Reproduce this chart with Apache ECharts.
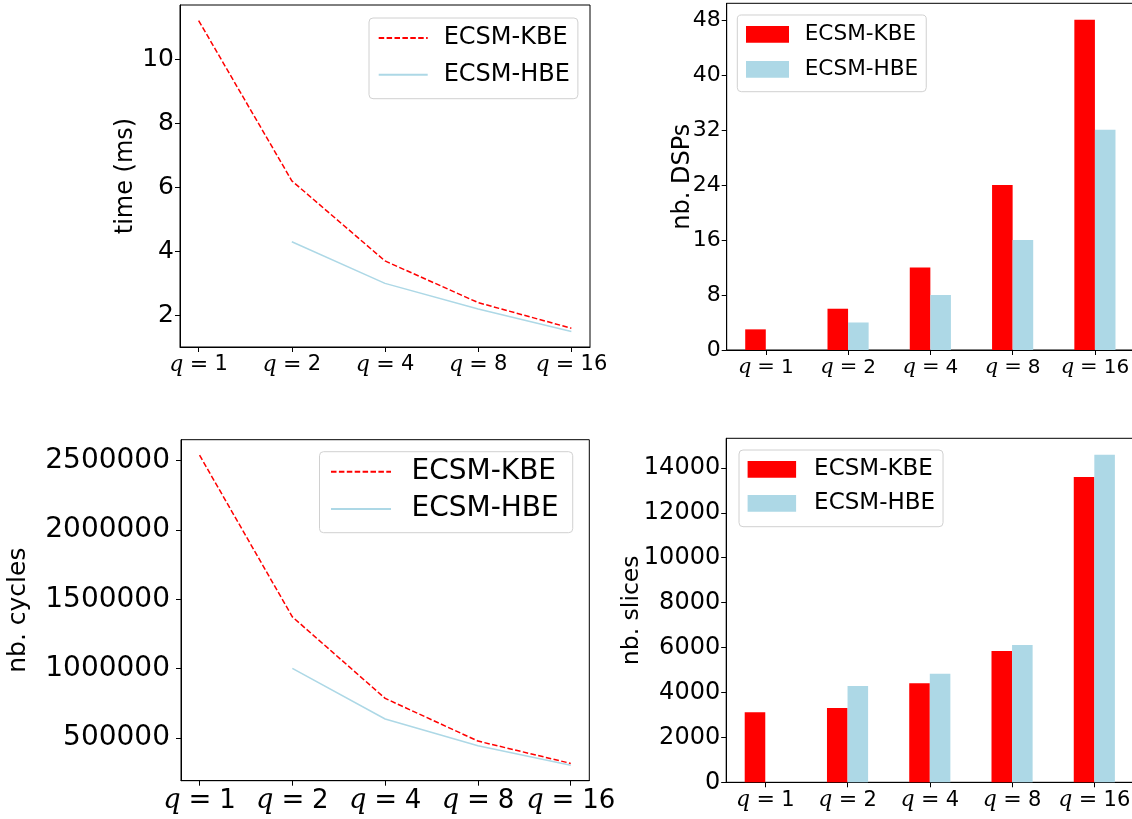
<!DOCTYPE html>
<html><head><meta charset="utf-8">
<script src="https://cdn.jsdelivr.net/npm/echarts@6/dist/echarts.min.js"></script>
<style>
body{margin:0;background:#fff;width:1132px;height:819px;position:relative;overflow:hidden}
.c{position:absolute}
</style></head><body>
<div id="tl" class="c" style="left:0;top:0;width:700px;height:410px"></div>
<div id="bl" class="c" style="left:0;top:410px;width:700px;height:409px"></div>
<div id="tr" class="c" style="left:600px;top:0;width:532px;height:410px"></div>
<div id="br" class="c" style="left:600px;top:410px;width:532px;height:409px"></div>
<script>
// ---- data ----
const qValues = [1, 2, 4, 8, 16];
const seriesNames = ['ECSM-KBE', 'ECSM-HBE'];
const timeKBE = [11.2, 6.2, 3.7, 2.4, 1.6];
const timeHBE = [null, 4.3, 3.0, 2.2, 1.5];
const dspKBE = [3, 6, 12, 24, 48];
const dspHBE = [0, 4, 8, 16, 32];
const cyclesKBE = [2540000, 1374000, 786000, 478000, 317000];
const cyclesHBE = [null, 1003000, 637000, 444000, 304000];
const slicesKBE = [3120, 3310, 4410, 5850, 13600];
const slicesHBE = [0, 4290, 4830, 6110, 14590];
const timeTicks = [2, 4, 6, 8, 10];
const dspTicks = [0, 8, 16, 24, 32, 40, 48];
const cycleTicks = [500000, 1000000, 1500000, 2000000, 2500000];
const sliceTicks = [0, 2000, 4000, 6000, 8000, 10000, 12000, 14000];
const yNames = ['time (ms)', 'nb. DSPs', 'nb. cycles', 'nb. slices'];
const RED = '#ff0000', BLUE = '#add8e6';
const FONT = '"DejaVu Sans", sans-serif';

function pts(arr) { return arr.map((v, i) => [i, v]).filter(p => p[1] !== null); }
function lims(a, b, zero) {
  const all = a.concat(b).filter(v => v !== null);
  const lo = zero ? 0 : Math.min(...all), hi = Math.max(...all);
  const m = 0.05 * (hi - lo);
  return [zero ? 0 : lo - m, hi + m];
}

function xAxisCfg(min, max, numSize) {
  const idx = qValues.map((q, i) => i);
  return {
    type: 'value', min: min, max: max,
    splitLine: { show: false },
    axisLine: { show: true, onZero: false, lineStyle: { color: '#000', width: 1 } },
    axisTick: { show: true, customValues: idx, length: 5, lineStyle: { color: '#000' } },
    axisLabel: {
      customValues: idx, margin: 7, hideOverlap: false,
      formatter: v => '{q|q}{e|=}{n|' + qValues[Math.round(v)] + '}',
      rich: {
        q: { fontFamily: '"DejaVu Serif", serif', fontStyle: 'italic', fontSize: numSize * 1.05, color: '#000' },
        e: { fontFamily: '"DejaVu Serif", serif', fontSize: numSize * 1.05, color: '#000', padding: [0, numSize * 0.3, 0, numSize * 0.3] },
        n: { fontFamily: FONT, fontSize: numSize, color: '#000' }
      }
    }
  };
}
function yAxisCfg(min, max, ticks, tickSize, tickMargin, name, nameSize, nameGap) {
  return {
    type: 'value', min: min, max: max,
    name: name, nameLocation: 'middle', nameGap: nameGap, nameMoveOverlap: false,
    nameTextStyle: { fontFamily: FONT, fontSize: nameSize, color: '#000' },
    splitLine: { show: false },
    axisLine: { show: true, onZero: false, lineStyle: { color: '#000', width: 1 } },
    axisTick: { show: true, customValues: ticks, length: 5, lineStyle: { color: '#000' } },
    axisLabel: { customValues: ticks, margin: tickMargin, hideOverlap: false, fontFamily: FONT, fontSize: tickSize, color: '#000', formatter: v => String(v) }
  };
}
function legendCfg(L) {
  const cfg = {
    orient: 'vertical', left: L.left, top: L.top,
    itemWidth: L.iw, itemHeight: L.ih, itemGap: L.gap,
    padding: L.pad, borderColor: '#d0d0d0', borderWidth: 1, borderRadius: 4,
    backgroundColor: 'rgba(255,255,255,0.8)',
    selectedMode: false,
    textStyle: { fontFamily: FONT, fontSize: L.fs, color: '#000', lineHeight: L.lh, padding: [0, 0, 0, L.tp] },
    data: seriesNames
  };
  if (L.icon) cfg.icon = L.icon;
  if (L.hideSymbol) cfg.itemStyle = { opacity: 0 };
  return cfg;
}

function lineChart(id, kbe, hbe, ticks, G, fsY, mY, fsX, name, fsN, gapN, L) {
  const [lo, hi] = lims(kbe, hbe, false);
  const ch = echarts.init(document.getElementById(id), null, { renderer: 'canvas' });
  ch.setOption({
    animation: false,
    grid: { left: G[0], top: G[1], width: G[2], height: G[3], show: true, borderColor: '#000', borderWidth: 1, containLabel: false, outerBoundsMode: 'none' },
    legend: legendCfg(L),
    xAxis: xAxisCfg(-0.2, qValues.length - 1 + 0.2, fsX),
    yAxis: yAxisCfg(lo, hi, ticks, fsY, mY, name, fsN, gapN),
    series: [
      { name: seriesNames[0], type: 'line', data: pts(kbe), symbol: 'none', lineStyle: { color: RED, width: 1.5, type: [5.5, 2.4] }, itemStyle: { color: RED } },
      { name: seriesNames[1], type: 'line', data: pts(hbe), symbol: 'none', lineStyle: { color: BLUE, width: 1.5 }, itemStyle: { color: BLUE } }
    ]
  });
}
function barChart(id, kbe, hbe, ticks, G, fsY, mY, fsX, name, fsN, gapN, L) {
  const [lo, hi] = lims(kbe, hbe, true);
  const n = qValues.length;
  const xmin = -0.25 - 0.05 * (n - 0.5), xmax = n - 1 + 0.25 + 0.05 * (n - 0.5);
  const bw = G[2] / (xmax - xmin) * 0.25;
  const ch = echarts.init(document.getElementById(id), null, { renderer: 'canvas' });
  ch.setOption({
    animation: false,
    grid: { left: G[0], top: G[1], width: G[2], height: G[3], show: true, borderColor: '#000', borderWidth: 1, containLabel: false, outerBoundsMode: 'none' },
    legend: legendCfg(L),
    xAxis: xAxisCfg(xmin, xmax, fsX),
    yAxis: yAxisCfg(lo, hi, ticks, fsY, mY, name, fsN, gapN),
    series: [
      { name: seriesNames[0], type: 'bar', data: pts(kbe), barWidth: bw, barGap: '0%', itemStyle: { color: RED } },
      { name: seriesNames[1], type: 'bar', data: pts(hbe), barWidth: bw, barGap: '0%', itemStyle: { color: BLUE } }
    ]
  });
}

lineChart('tl', timeKBE, timeHBE, timeTicks, [180, 5, 410, 342], 25, 6, 21, yNames[0], 24, 42,
  { left: 369, top: 18, iw: 49, ih: 14, gap: 6.7, pad: [5, 8, 9, 8.7], fs: 24, lh: 30, tp: 11, hideSymbol: true });
barChart('tr', dspKBE, dspHBE, dspTicks, [126.7, 3.3, 407.3, 346.7], 22, 6, 20, yNames[1], 24, 32,
  { left: 137.3, top: 15, iw: 43, ih: 16.7, gap: 5, pad: [4.3, 8, 7.4, 8.7], fs: 21.6, lh: 30, tp: 10.7, icon: 'rect' });
lineChart('bl', cyclesKBE, cyclesHBE, cycleTicks, [181, 29.7, 408.3, 341], 28, 11, 26, yNames[2], 25, 150,
  { left: 319.5, top: 41.7, iw: 60, ih: 14, gap: 5.3, pad: [4, 14, 7.7, 10.5], fs: 28, lh: 32, tp: 15.5, hideSymbol: true });
barChart('br', slicesKBE, slicesHBE, sliceTicks, [126.2, 28.3, 407.2, 344], 24, 6, 21, yNames[3], 23.5, 82,
  { left: 139, top: 40, iw: 48.5, ih: 16.7, gap: 4, pad: [4.3, 8, 8.4, 8.6], fs: 23, lh: 30, tp: 13, icon: 'rect' });
</script>
</body></html>
